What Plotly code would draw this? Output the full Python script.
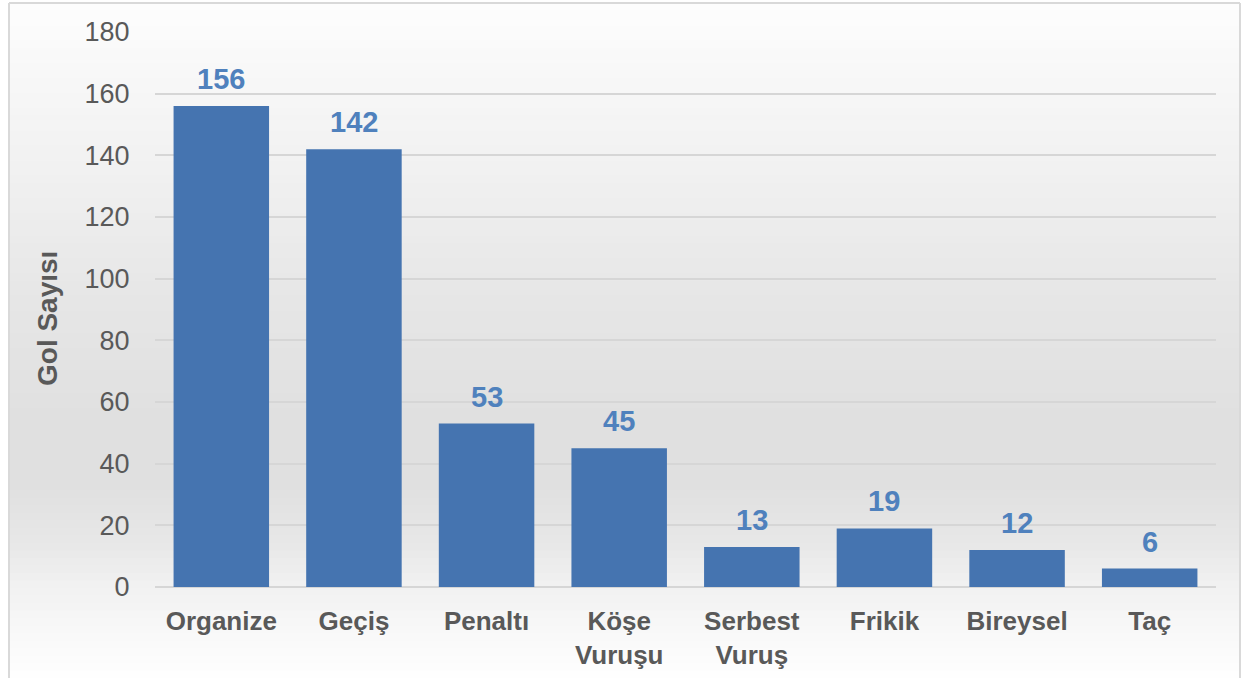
import plotly.graph_objects as go

categories = ["Organize", "Geçiş", "Penaltı", "Köşe<br>Vuruşu", "Serbest<br>Vuruş", "Frikik", "Bireysel", "Taç"]
values = [156, 142, 53, 45, 13, 19, 12, 6]
y_ticks = [0, 20, 40, 60, 80, 100, 120, 140, 160, 180]
y_title = "Gol Sayısı"

W, H = 1249, 678
L, R, T, B = 155, 33, 32, 91
pw, ph = W - L - R, H - T - B
FONT = "Liberation Sans, Arial, sans-serif"

def px_to_paper_x(px):
    return (px - L) / pw

def px_to_paper_y(py):
    return (H - B - py) / ph

# background gradient stops (pixel y, gray level)
stops = [(3, 253), (180, 240), (300, 230), (420, 224), (490, 224), (545, 232), (590, 242), (678, 255)]

shapes = []
n = 90
y0, y1 = 3, 678
for i in range(n):
    a = y0 + (y1 - y0) * i / n
    b = y0 + (y1 - y0) * (i + 1) / n
    m = (a + b) / 2
    for j in range(len(stops) - 1):
        if stops[j][0] <= m <= stops[j + 1][0]:
            t = (m - stops[j][0]) / (stops[j + 1][0] - stops[j][0])
            g = int(round(stops[j][1] + t * (stops[j + 1][1] - stops[j][1])))
            break
    col = f"rgb({g},{g},{g})"
    shapes.append(dict(type="rect", xref="paper", yref="paper",
                       x0=px_to_paper_x(10), x1=px_to_paper_x(1239),
                       y0=px_to_paper_y(b) - 0.001, y1=px_to_paper_y(a),
                       fillcolor=col, line=dict(width=0), layer="below"))

# frame
frame_col = "#d9d9d9"
for (xa, ya, xb, yb) in [(9, 3, 9, 680), (9, 3, 1240, 3), (1240, 3, 1240, 680)]:
    shapes.append(dict(type="line", xref="paper", yref="paper",
                       x0=px_to_paper_x(xa), x1=px_to_paper_x(xb),
                       y0=px_to_paper_y(ya), y1=px_to_paper_y(yb),
                       line=dict(color=frame_col, width=2), layer="above"))

fig = go.Figure()
fig.add_trace(go.Bar(
    x=categories, y=values,
    marker=dict(color="#4574B0", line=dict(width=0)),
    hoverinfo="x+y",
))

annotations = []
for c, v in zip(categories, values):
    annotations.append(dict(x=c, y=v, xref="x", yref="y", text=f"<b>{v}</b>",
                            showarrow=False, yanchor="bottom", yshift=9,
                            font=dict(family=FONT, size=29, color="#4F81BD")))

# y axis title as annotation for exact placement
annotations.append(dict(x=px_to_paper_x(47), y=px_to_paper_y(319), xref="paper", yref="paper",
                        text=f"<b>{y_title}</b>", textangle=-90, showarrow=False,
                        xanchor="center", yanchor="middle",
                        font=dict(family=FONT, size=28, color="#595959")))

fig.update_layout(
    width=W, height=H,
    margin=dict(l=L, r=R, t=T, b=B, autoexpand=False),
    paper_bgcolor="white",
    plot_bgcolor="rgba(0,0,0,0)",
    bargap=0.28,
    showlegend=False,
    shapes=shapes,
    annotations=annotations,
    font=dict(family=FONT, color="#595959"),
    xaxis=dict(
        tickfont=dict(size=26, color="#595959", family=FONT, weight="bold"),
        showgrid=False, showline=False, zeroline=False,
        ticks="outside", ticklen=11, tickcolor="rgba(0,0,0,0)",
        fixedrange=True,
    ),
    yaxis=dict(
        range=[0, 180], tickvals=y_ticks,
        tickfont=dict(size=27, color="#595959", family=FONT),
        showgrid=True, gridcolor="#d6d6d6", gridwidth=2,
        zeroline=True, zerolinecolor="#d6d6d6", zerolinewidth=2,
        showline=False,
        ticks="outside", ticklen=19, tickcolor="rgba(0,0,0,0)",
        fixedrange=True,
    ),
)

fig.write_html("out.html", config={"displayModeBar": False},
               post_script="document.body.style.margin='0';document.body.style.padding='0';")
